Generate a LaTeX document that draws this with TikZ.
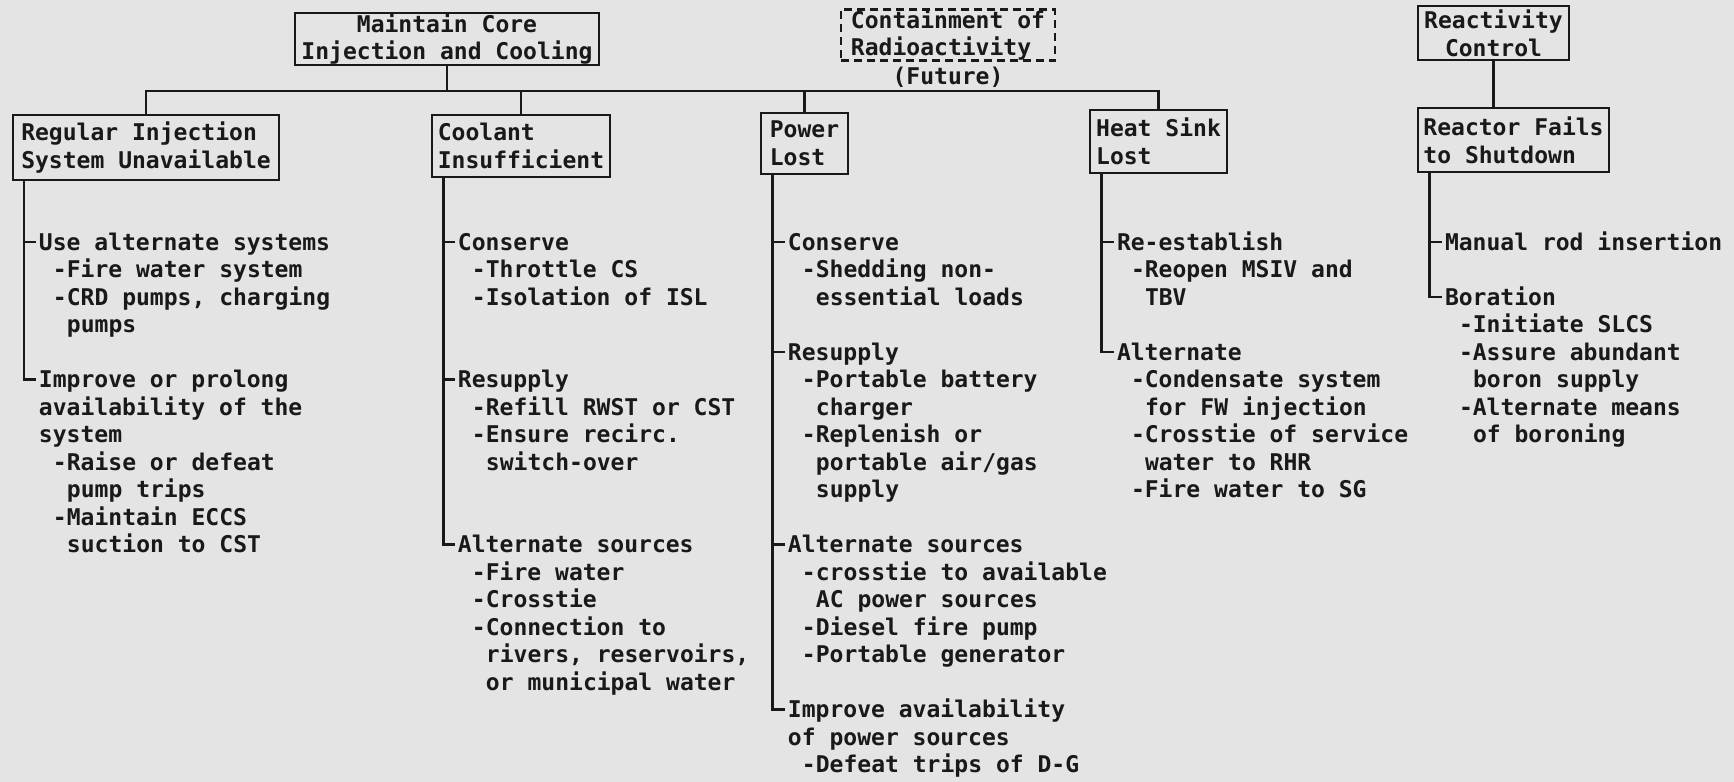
\documentclass[tikz,border=0pt]{standalone}
\usepackage{fontspec}
\setmonofont{DejaVu Sans Mono}
\usepackage{tikz}
\definecolor{paper}{RGB}{228,228,228}
\definecolor{ink}{RGB}{25,25,25}

\begin{document}
\begin{tikzpicture}[x=0.2mm,y=-0.2mm,
    box/.style={draw=ink,line width=1.4pt,inner sep=0pt,align=left,text=ink,
        font=\ttfamily\bfseries\fontsize{13.1}{15.8}\selectfont},
    act/.style={anchor=west,inner xsep=1.5pt,inner ysep=0pt,text height=9.6pt,text depth=0pt,
        text=ink,font=\ttfamily\bfseries\fontsize{13.1}{15.8}\selectfont},
    link/.style={draw=ink,line width=1.4pt}]
    \useasboundingbox (0,0) rectangle (1734,782);
    \fill[paper] (0,0) rectangle (1734,782);

    % Top level functions
    \node[box,align=center,minimum width=60.8mm,minimum height=10.4mm] (maint) at (447,39) {Maintain Core\\Injection and Cooling};
    \node[box,dash pattern=on 1.6mm off 1mm,minimum width=42.8mm,minimum height=10mm] (contain) at (948,35) {Containment of\\Radioactivity};
    \node[box,draw=none] (future) at (948,77) {(Future)};
    \node[box,align=center,minimum width=30.2mm,minimum height=10.8mm] (react) at (1493.5,33) {Reactivity\\Control};

    % Challenges
    \node[box,minimum width=53.2mm,minimum height=13mm] (regbox) at (146,147.5) {Regular Injection\\System Unavailable};
    \node[box,minimum width=35.6mm,minimum height=12.4mm] (coolbox) at (521,146) {Coolant\\Insufficient};
    \node[box,minimum width=17.4mm,minimum height=12.2mm] (powbox) at (804.5,143.5) {Power\\Lost};
    \node[box,minimum width=27.4mm,minimum height=12.6mm] (heatbox) at (1158.5,141.5) {Heat Sink\\Lost};
    \node[box,minimum width=38.2mm,minimum height=12.8mm] (failbox) at (1513.5,140) {Reactor Fails\\to Shutdown};

    % Tree links
    \coordinate (bus) at (0,91);
    \draw[link] (maint.south) -- (maint.south |- bus);
    \draw[link] (regbox.north) -- (regbox.north |- bus) -- (heatbox.north |- bus) -- (heatbox.north);
    \draw[link] (coolbox.north) -- (coolbox.north |- bus);
    \draw[link] (powbox.north) -- (powbox.north |- bus);
    \draw[link] (react.south) -- (react.south |- failbox.north);

    % Spines
    \coordinate (regsp) at ([xshift=2.5mm]regbox.south west);
    \coordinate (coolsp) at ([xshift=2.5mm]coolbox.south west);
    \coordinate (powsp) at ([xshift=2.5mm]powbox.south west);
    \coordinate (heatsp) at ([xshift=2.5mm]heatbox.south west);
    \coordinate (failsp) at ([xshift=2.5mm]failbox.south west);

    % Regular injection
    \foreach \row/\col/\txt [count=\n] in {0/0/{Use alternate systems},1/1/{-Fire water system},
        2/1/{-CRD pumps, charging},3/2/pumps,5/0/{Improve or prolong},6/0/{availability of the},
        7/0/system,8/1/{-Raise or defeat},9/2/{pump trips},10/1/{-Maintain ECCS},11/2/{suction to CST}}
        \node[act] (reg\n) at (36+14*\col,242+27.5*\row) {\txt};
    \draw[link] (regsp) |- (reg5.west);
    \draw[link] (reg1.west) -- (reg1.west -| regsp);

    % Coolant
    \foreach \row/\col/\txt [count=\n] in {0/0/Conserve,1/1/{-Throttle CS},2/1/{-Isolation of ISL},
        5/0/Resupply,6/1/{-Refill RWST or CST},7/1/{-Ensure recirc.},8/2/switch-over,
        11/0/{Alternate sources},12/1/{-Fire water},13/1/-Crosstie,14/1/{-Connection to},
        15/2/{rivers, reservoirs,},16/2/{or municipal water}}
        \node[act] (cool\n) at (455+14*\col,242+27.5*\row) {\txt};
    \draw[link] (coolsp) |- (cool8.west);
    \foreach \k in {1,4}
        \draw[link] (cool\k.west) -- (cool\k.west -| coolsp);

    % Power
    \foreach \row/\col/\txt [count=\n] in {0/0/Conserve,1/1/{-Shedding non-},2/2/{essential loads},
        4/0/Resupply,5/1/{-Portable battery},6/2/charger,7/1/{-Replenish or},8/2/{portable air/gas},
        9/2/supply,11/0/{Alternate sources},12/1/{-crosstie to available},13/2/{AC power sources},
        14/1/{-Diesel fire pump},15/1/{-Portable generator},17/0/{Improve availability},
        18/0/{of power sources},19/1/{-Defeat trips of D-G}}
        \node[act] (pow\n) at (785+14*\col,242+27.5*\row) {\txt};
    \draw[link] (powsp) |- (pow15.west);
    \foreach \k in {1,4,10}
        \draw[link] (pow\k.west) -- (pow\k.west -| powsp);

    % Heat sink
    \foreach \row/\col/\txt [count=\n] in {0/0/Re-establish,1/1/{-Reopen MSIV and},2/2/TBV,
        4/0/Alternate,5/1/{-Condensate system},6/2/{for FW injection},7/1/{-Crosstie of service},
        8/2/{water to RHR},9/1/{-Fire water to SG}}
        \node[act] (heat\n) at (1114+14*\col,242+27.5*\row) {\txt};
    \draw[link] (heatsp) |- (heat4.west);
    \draw[link] (heat1.west) -- (heat1.west -| heatsp);

    % Shutdown
    \foreach \row/\col/\txt [count=\n] in {0/0/{Manual rod insertion},2/0/Boration,3/1/{-Initiate SLCS},
        4/1/{-Assure abundant},5/2/{boron supply},6/1/{-Alternate means},7/2/{of boroning}}
        \node[act] (fail\n) at (1442+14*\col,242+27.5*\row) {\txt};
    \draw[link] (failsp) |- (fail2.west);
    \draw[link] (fail1.west) -- (fail1.west -| failsp);
\end{tikzpicture}
\end{document}
